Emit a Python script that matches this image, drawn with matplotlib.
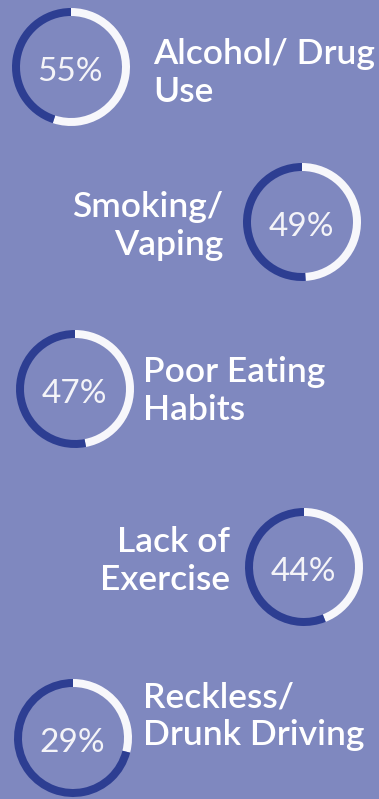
import matplotlib
matplotlib.use("Agg")
import matplotlib.pyplot as plt

# Share of respondents per risky behaviour
categories = ["Alcohol/ Drug\nUse", "Smoking/\nVaping", "Poor Eating\nHabits",
              "Lack of\nExercise", "Reckless/\nDrunk Driving"]
percentages = [55, 49, 47, 44, 29]

BG = "#7f88bf"
RING_ON = "#f7f7fb"
RING_OFF = "#2d3e92"

W, H = 379, 799
fig = plt.figure(figsize=(W / 100, H / 100), dpi=100, facecolor=BG)
ax = fig.add_axes([0, 0, 1, 1])
ax.set_facecolor(BG)

# layout: ring centre (x, y from top) and which side the label sits on
ring_pos = [(71, 67), (302, 222), (75, 389), (304, 567), (73, 738)]
label_side = ["right", "left", "right", "left", "right"]
label_x = [153, 223, 143, 230, 143]
label_y = [73, 226, 391, 561, 716]

R = 59
RW = 8

for cat, pct, (cx, cy), side, lx, ly in zip(categories, percentages, ring_pos,
                                             label_side, label_x, label_y):
    ax.pie([pct, 100 - pct], center=(cx, H - cy), radius=R,
           colors=[RING_ON, RING_OFF], startangle=90, counterclock=False,
           wedgeprops=dict(width=RW, linewidth=0), frame=True)
    ax.text(cx - 1, H - cy - 2, f"{pct}%", ha="center", va="center_baseline",
            color="#f4f4f8", fontsize=24, family="Lato", weight="normal")
    ax.text(lx, H - ly, cat, ha="left" if side == "right" else "right",
            va="center", color="white", fontsize=25.5, family="Lato",
            weight="semibold", linespacing=1.22,
            multialignment="left" if side == "right" else "right")

ax.set_xlim(0, W)
ax.set_ylim(0, H)
ax.set_aspect("equal")
ax.axis("off")

fig.savefig("out.png", dpi=100, facecolor=BG)
